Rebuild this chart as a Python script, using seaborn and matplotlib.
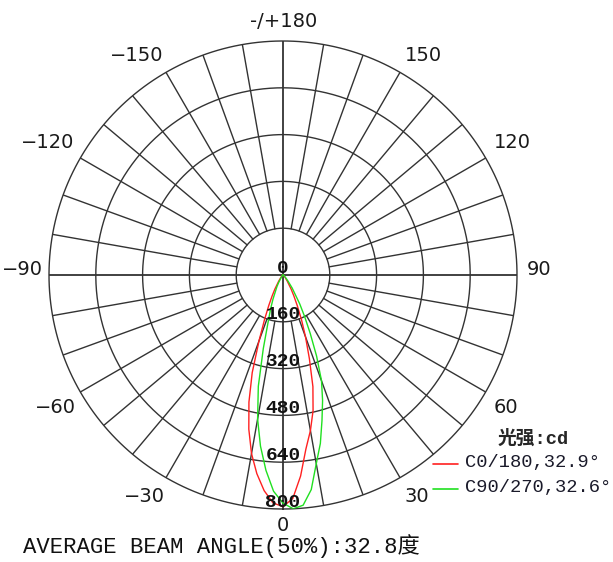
import numpy as np
import pandas as pd
import seaborn as sns
import matplotlib.pyplot as plt
from matplotlib.lines import Line2D

sns.set_style("white")
plt.rcParams['font.family'] = ['DejaVu Sans', 'Noto Sans CJK SC']

# gamma angles (deg) and luminous intensity (cd)
angles = [-90, -60, -50, -45, -40, -35, -30, -27.5, -25, -22.5, -20, -17.5, -15, -12.5,
          -10, -7.5, -5, -2.5, 0, 2.5, 5, 7.5, 10, 12.5, 15, 17.5, 20, 22.5, 25, 27.5,
          30, 35, 40, 45, 50, 60, 90]
c0_180 = [0, 2, 4, 7, 12, 25, 55, 80, 115, 165, 240, 350, 450, 540,
          620, 685, 740, 780, 792, 765, 690, 600, 540, 475, 395, 300, 225, 165, 115, 80,
          55, 25, 12, 7, 4, 2, 0]
c90_270 = [0, 2, 3, 4, 5, 12, 30, 45, 60, 90, 125, 170, 260, 390,
           500, 590, 670, 740, 780, 800, 790, 740, 655, 590, 515, 450, 385, 300, 220, 160,
           115, 55, 25, 12, 6, 3, 0]

planes = ['C0/180', 'C90/270']
beam = ['32.9°', '32.6°']
colors = ['#ff2020', '#20e020']

rings = [160, 320, 480, 640, 800]
r_labels = ['0', '160', '320', '480', '640', '800']
r_label_vals = [0, 160, 320, 480, 640, 800]
a_labels = ['0', '30', '60', '90', '120', '150', '-/+180', '−150', '−120', '−90', '−60', '−30']
# label anchor points in pixels (x centre, baseline)
a_label_pos = [(283, 531), (417, 502), (506, 413), (539, 275), (512, 148), (423, 61),
               (284, 27), (137, 61), (48, 148), (22, 275), (55, 413), (144, 502)]

df = pd.DataFrame({
    'theta': np.deg2rad(angles * 2),
    'cd': c0_180 + c90_270,
    'plane': [planes[0]] * len(angles) + [planes[1]] * len(angles),
})

W, H = 613, 562
fig = plt.figure(figsize=(W / 100, H / 100), dpi=100)
ax = fig.add_axes([49 / W, 53 / H, 468 / W, 468 / H], projection='polar')
ax.set_theta_zero_location('S')
ax.set_theta_direction(1)

# grid: rings and spokes
gc = '#333333'
th = np.linspace(0, 2 * np.pi, 500)
for r in rings:
    ax.plot(th, [r] * len(th), color=gc, lw=1.0, clip_on=False, zorder=1)
for d in range(0, 360, 10):
    t = np.deg2rad(d)
    if d % 90 == 0:
        ax.plot([t, t], [0, 800], color=gc, lw=1.3, zorder=1)
    else:
        ax.plot([t, t], [160, 800], color=gc, lw=1.0, zorder=1)

sns.lineplot(data=df, x='theta', y='cd', hue='plane', palette=colors, sort=False,
             estimator=None, ax=ax, legend=False, linewidth=1.0, zorder=3)

ax.set_ylim(0, 800)
ax.grid(False)
ax.set_xticks([])
ax.set_yticks([])
ax.spines['polar'].set_visible(False)
ax.set_xlabel('')
ax.set_ylabel('')

for (px, py), lbl in zip(a_label_pos, a_labels):
    fig.text(px / W, 1 - py / H, lbl, ha='center', va='baseline',
             fontsize=14, color='#1a1a1a')

for v, lbl in zip(r_label_vals, r_labels):
    ax.annotate(lbl, xy=(0, v), xytext=(0, 5), textcoords='offset points',
                ha='center', va='center', fontsize=14, fontweight='bold',
                color='#111111', family=['Liberation Mono'], zorder=5)

# legend
fig.text(498 / W, 1 - 439 / H, '光强:cd', fontsize=13.5, fontweight='bold',
         family=['Liberation Mono', 'Noto Sans CJK SC'], va='center', ha='left')
for i in range(2):
    y = 1 - (464 + 25 * i) / H
    fig.add_artist(Line2D([433 / W, 458 / W], [y, y], color=colors[i], lw=1.2))
    fig.text(465 / W, y + 1.5 / H, f'{planes[i]},{beam[i]}', fontsize=13.5,
             family=['Liberation Mono'], va='center', ha='left', color='#1a1a2a')

fig.text(23 / W, 1 - 553 / H, 'AVERAGE BEAM ANGLE(50%):32.8度', fontsize=16,
         family=['Liberation Mono', 'Noto Sans CJK SC'], va='baseline', ha='left',
         color='#111111')

fig.savefig('out.png', dpi=100)
